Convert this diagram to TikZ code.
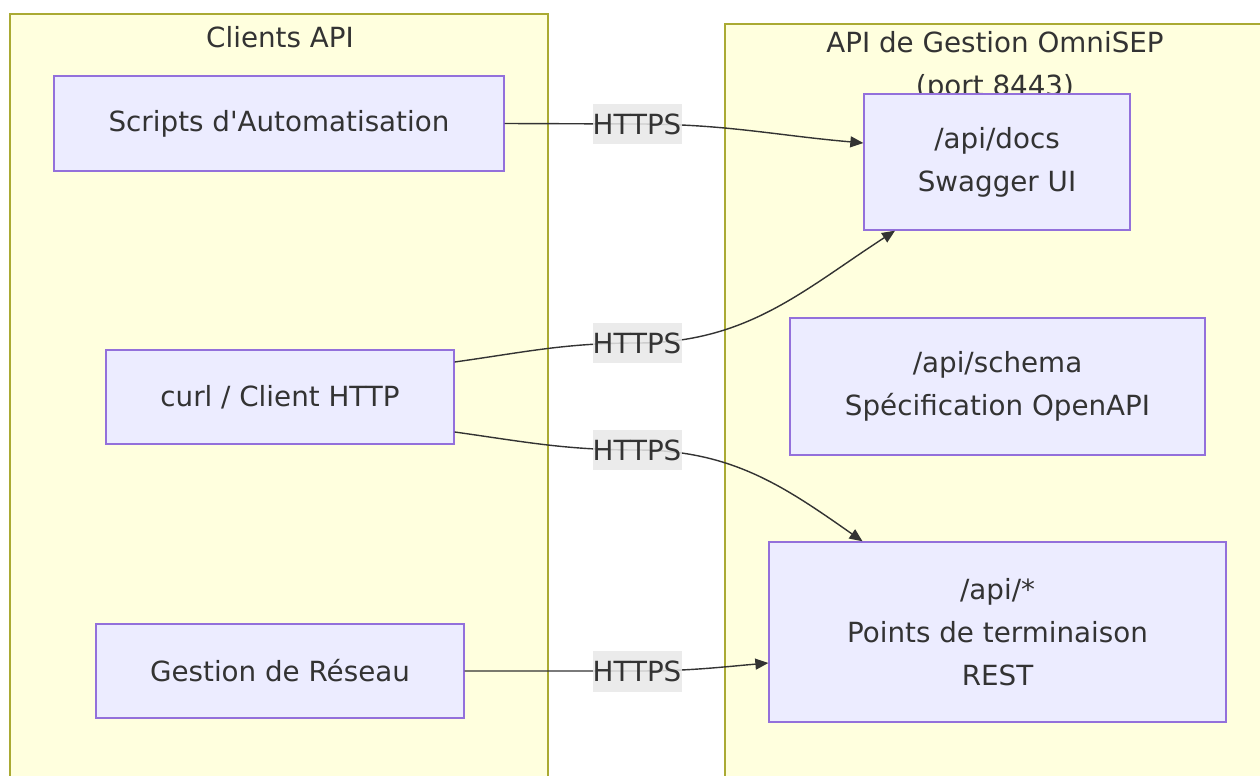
\documentclass[tikz,border=0pt]{standalone}
\usepackage{fontspec}
\setmainfont{DejaVu Sans}[Ligatures=TeXOff]
\usetikzlibrary{arrows.meta, positioning}

\definecolor{clusterfill}{HTML}{FFFFDE}
\definecolor{clusterline}{HTML}{AAAA33}
\definecolor{boxfill}{HTML}{ECECFF}
\definecolor{boxline}{HTML}{9370DB}
\definecolor{edgecol}{HTML}{333333}
\definecolor{labelfill}{HTML}{E8E8E8}

\begin{document}
\begin{tikzpicture}[x=0.02cm, y=0.02cm,
        font=\fontsize{15.8pt}{24.4pt}\selectfont, text=edgecol,
        cluster_box/.style={draw=clusterline, fill=clusterfill, line width=0.6pt},
        cluster_title/.style={align=center},
        api_box/.style={draw=boxline, fill=boxfill, line width=0.8pt, rectangle, align=center, inner sep=0pt},
        https_label/.style={fill=labelfill, fill opacity=0.85, text opacity=1, inner sep=0pt,
            minimum width=1.78cm, minimum height=0.82cm},
        flow/.style={draw=edgecol, line width=0.8pt, -{Triangle[length=0.26cm, width=0.22cm]}}]

        \useasboundingbox (0,0) rectangle (1260,775);
        \clip (0,0) rectangle (1260,775);

        % Clusters
        \draw[cluster_box] (10,761) rectangle (548,-10);
        \draw[cluster_box] (725,751) rectangle (1270,-10);
        \node[cluster_title] (clients_title) at (280,738) {Clients API};
        \node[cluster_title] (omni_title) at (995,709) {API de Gestion OmniSEP\\(port 8443)};

        % Clients
        \node[api_box, minimum width=9cm, minimum height=1.9cm] (scripts) at (279,651.5) {Scripts d'Automatisation};
        \node[api_box, minimum width=6.96cm, minimum height=1.88cm] (curl) at (280,378) {curl / Client HTTP};
        \node[api_box, minimum width=7.36cm, minimum height=1.88cm] (reseau) at (280,104) {Gestion de Réseau};

        % OmniSEP endpoints
        \node[api_box, minimum width=5.32cm, minimum height=2.72cm] (docs) at (997,613) {/api/docs\\Swagger UI};
        \node[api_box, minimum width=8.3cm, minimum height=2.74cm] (schema) at (997.5,388.5) {/api/schema\\Spécification OpenAPI};
        \node[api_box, minimum width=9.14cm, minimum height=3.6cm] (rest) at (997.5,143) {/api/*\\Points de terminaison\\REST};

        % Label positions
        \coordinate (h1_pos) at (637,651);
        \coordinate (h2_pos) at (637,432);
        \coordinate (h3_pos) at (637,325);
        \coordinate (h4_pos) at (637,104);

        % Connectors
        \draw[flow] (scripts.east) -- (h1_pos) to[out=0, in=175] ([yshift=0.38cm]docs.west);
        \draw[flow] ([yshift=0.7cm]curl.east) to[out=8, in=180] (h2_pos) to[out=0, in=213] ([xshift=-2.04cm]docs.south);
        \draw[flow] ([yshift=-0.7cm]curl.east) to[out=-8, in=180] (h3_pos) to[out=0, in=145] ([xshift=-2.7cm]rest.north);
        \draw[flow] (reseau.east) -- (h4_pos) to[out=0, in=185] ([yshift=-0.62cm]rest.west);

        % HTTPS labels (drawn on top)
        \node[https_label] (h1) at (h1_pos) {HTTPS};
        \node[https_label] (h2) at (h2_pos) {HTTPS};
        \node[https_label] (h3) at (h3_pos) {HTTPS};
        \node[https_label] (h4) at (h4_pos) {HTTPS};
\end{tikzpicture}
\end{document}
